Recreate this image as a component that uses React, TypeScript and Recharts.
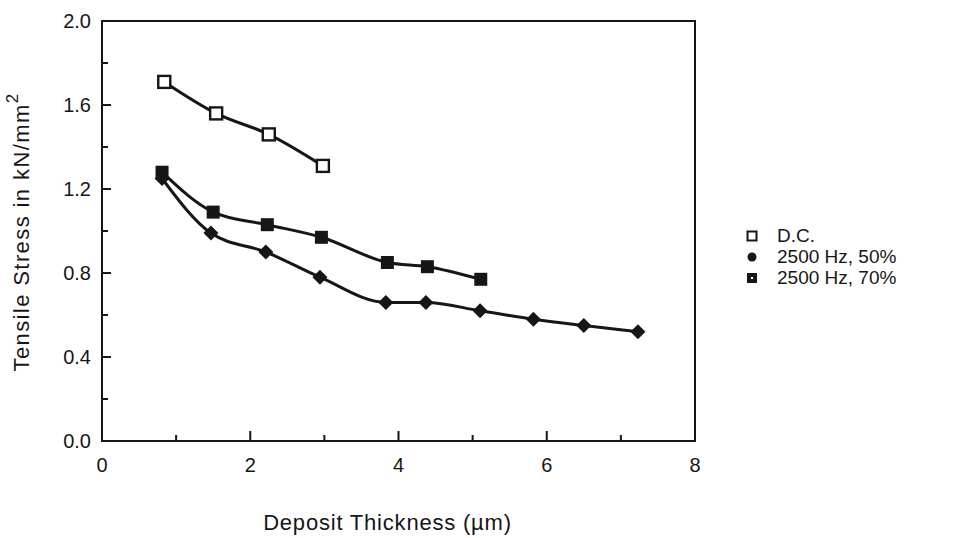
import { LineChart, Line, XAxis, YAxis, ReferenceArea, Label } from 'recharts';

// tick values (labels only on the major ones)
const xTicks = [0, 1, 2, 3, 4, 5, 6, 7, 8];
const yTicks = [0, 0.2, 0.4, 0.6, 0.8, 1.0, 1.2, 1.4, 1.6, 1.8, 2.0];

// D.C.
const dcThickness = [0.84, 1.54, 2.25, 2.98];
const dcStress = [1.71, 1.56, 1.46, 1.31];

// 2500 Hz, 50%
const hz50Thickness = [0.81, 1.47, 2.21, 2.94, 3.83, 4.37, 5.1, 5.82, 6.5, 7.23];
const hz50Stress = [1.25, 0.99, 0.9, 0.78, 0.66, 0.66, 0.62, 0.58, 0.55, 0.52];

// 2500 Hz, 70%
const hz70Thickness = [0.81, 1.5, 2.23, 2.96, 3.85, 4.39, 5.11];
const hz70Stress = [1.28, 1.09, 1.03, 0.97, 0.85, 0.83, 0.77];

const toRows = (xs: number[], ys: number[]) => xs.map((x, i) => ({ x, y: ys[i] }));

const dcData = toRows(dcThickness, dcStress);
const hz50Data = toRows(hz50Thickness, hz50Stress);
const hz70Data = toRows(hz70Thickness, hz70Stress);

const INK = '#161616';
const FONT = '"Liberation Sans", Arial, Helvetica, sans-serif';

function YTick(props: any) {
  const { x, y, payload } = props;
  const v = payload.value as number;
  const major = Math.round(v * 10) % 4 === 0;
  const ax = x + 11;
  return (
    <g>
      <line x1={ax} x2={ax + (major ? 9 : 6)} y1={y} y2={y} stroke={INK} strokeWidth={2} />
      {major && (
        <text x={x} y={y} dy="0.36em" textAnchor="end" fontSize={20} fontFamily={FONT} fill={INK}>
          {v.toFixed(1)}
        </text>
      )}
    </g>
  );
}

function XTick(props: any) {
  const { x, y, payload } = props;
  const v = payload.value as number;
  const major = v % 2 === 0;
  const ay = y - 24;
  return (
    <g>
      <line x1={x} x2={x} y1={ay} y2={ay - (major ? 10 : 6)} stroke={INK} strokeWidth={2} />
      {major && (
        <text x={x} y={y} dy="0.36em" textAnchor="middle" fontSize={20} fontFamily={FONT} fill={INK}>
          {v}
        </text>
      )}
    </g>
  );
}

const OpenSquare = (p: any) => (
  <rect key={p.index} x={p.cx - 6} y={p.cy - 6} width={12} height={12} fill="#fff" stroke={INK} strokeWidth={2.4} />
);

const FilledDiamond = (p: any) => (
  <polygon
    key={p.index}
    points={`${p.cx},${p.cy - 7.5} ${p.cx + 7.5},${p.cy} ${p.cx},${p.cy + 7.5} ${p.cx - 7.5},${p.cy}`}
    fill={INK}
  />
);

const FilledSquare = (p: any) => (
  <rect key={p.index} x={p.cx - 6.5} y={p.cy - 6.5} width={13} height={13} fill={INK} />
);

const legendRows = [
  { label: 'D.C.', kind: 'open' },
  { label: '2500 Hz, 50%', kind: 'dot' },
  { label: '2500 Hz, 70%', kind: 'filled' },
];

function LegendMark({ kind }: { kind: string }) {
  return (
    <svg width={12} height={12} style={{ marginRight: 19 }}>
      {kind === 'open' && <rect x={1.5} y={1.5} width={9} height={9} fill="#fff" stroke={INK} strokeWidth={2} />}
      {kind === 'dot' && <circle cx={6} cy={6} r={4.5} fill={INK} />}
      {kind === 'filled' && (
        <g>
          <rect x={1} y={1} width={10} height={10} fill={INK} />
          <rect x={5} y={5} width={2} height={2} fill="#fff" />
        </g>
      )}
    </svg>
  );
}

export default function App() {
  return (
    <div style={{ position: 'absolute', left: 0, top: 0, width: 972, height: 538, background: '#fff' }}>
      <LineChart width={972} height={538} margin={{ top: 21, right: 277, bottom: 0, left: 0 }}>
        <XAxis
          type="number"
          dataKey="x"
          domain={[0, 8]}
          ticks={xTicks}
          interval={0}
          height={97}
          tickSize={0}
          tickMargin={24}
          tickLine={false}
          tick={<XTick />}
          axisLine={{ stroke: INK, strokeWidth: 2 }}
        >
          <Label
            content={(p: any) => (
              <text
                x={p.viewBox.x + p.viewBox.width / 2 - 11}
                y={p.viewBox.y + 89}
                textAnchor="middle"
                fontSize={22}
                letterSpacing={0.8}
                fontFamily={FONT}
                fill={INK}
              >
                Deposit Thickness (µm)
              </text>
            )}
          />
        </XAxis>
        <YAxis
          type="number"
          dataKey="y"
          domain={[0, 2]}
          ticks={yTicks}
          interval={0}
          width={102}
          tickSize={0}
          tickMargin={11}
          tickLine={false}
          tick={<YTick />}
          axisLine={{ stroke: INK, strokeWidth: 2 }}
        >
          <Label
            content={(p: any) => {
              const cx = 21;
              const cy = 232;
              return (
                <text
                  x={cx}
                  y={cy}
                  transform={`rotate(-90, ${cx}, ${cy})`}
                  textAnchor="middle"
                  dominantBaseline="central"
                  fontSize={22}
                  letterSpacing={1.4}
                  fontFamily={FONT}
                  fill={INK}
                >
                  Tensile Stress in kN/mm
                  <tspan fontSize={17} dy={-9}>2</tspan>
                </text>
              );
            }}
          />
        </YAxis>
        <ReferenceArea x1={0} x2={8} y1={0} y2={2} fill="none" stroke={INK} strokeWidth={2} fillOpacity={0} />
        <Line
          data={dcData}
          dataKey="y"
          type="monotone"
          stroke={INK}
          strokeWidth={3}
          dot={OpenSquare}
          activeDot={false}
          isAnimationActive={false}
        />
        <Line
          data={hz50Data}
          dataKey="y"
          type="monotone"
          stroke={INK}
          strokeWidth={3}
          dot={FilledDiamond}
          activeDot={false}
          isAnimationActive={false}
        />
        <Line
          data={hz70Data}
          dataKey="y"
          type="monotone"
          stroke={INK}
          strokeWidth={3}
          dot={FilledSquare}
          activeDot={false}
          isAnimationActive={false}
        />
      </LineChart>
      <div style={{ position: 'absolute', left: 746, top: 225, fontFamily: FONT, fontSize: 19, color: INK }}>
        {legendRows.map((r) => (
          <div key={r.label} style={{ display: 'flex', alignItems: 'center', height: 21 }}>
            <LegendMark kind={r.kind} />
            <span>{r.label}</span>
          </div>
        ))}
      </div>
    </div>
  );
}
